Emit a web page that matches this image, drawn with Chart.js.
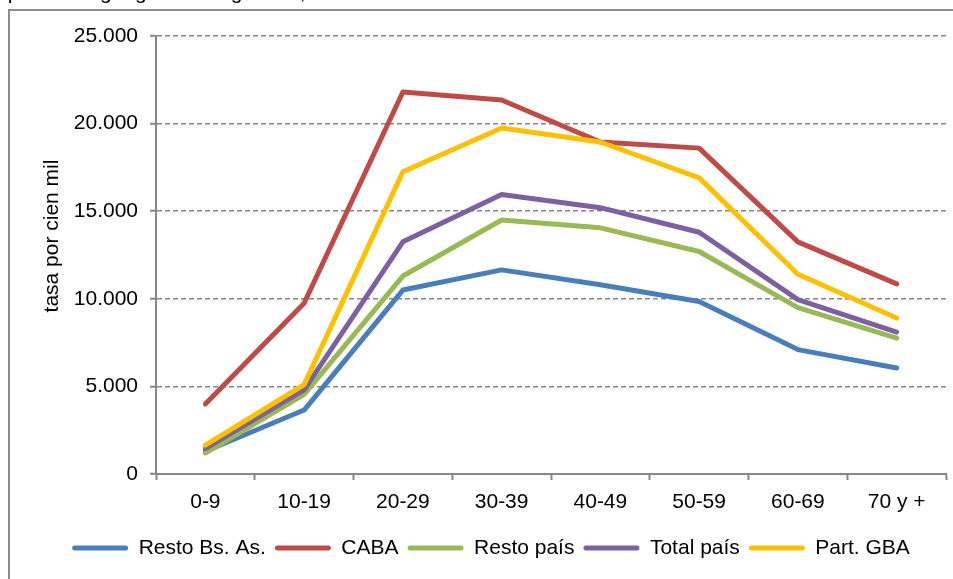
<!DOCTYPE html>
<html lang="es">
<head>
<meta charset="utf-8">
<title>Tasa por cien mil según grupo de edad</title>
<script src="https://cdn.jsdelivr.net/npm/chart.js@4/dist/chart.umd.min.js"></script>
<style>
  html, body { margin: 0; padding: 0; background: #fff; }
  #wrap { position: relative; width: 953px; height: 579px; }
  canvas { display: block; }
</style>
</head>
<body>
<div id="wrap"><canvas id="chart" width="953" height="579"></canvas></div>
<script>
// Age groups (x categories)
const ageGroups = ['0-9', '10-19', '20-29', '30-39', '40-49', '50-59', '60-69', '70 y +'];

// Rates per 100,000 inhabitants, one array per geographic group
const restoBsAs  = [1300, 3650, 10500, 11650, 10800, 9850, 7100, 6050];
const caba       = [4000, 9750, 21800, 21350, 18950, 18600, 13250, 10850];
const restoPais  = [1200, 4550, 11300, 14500, 14050, 12700, 9500, 7750];
const totalPais  = [1450, 4800, 13250, 15950, 15200, 13800, 9950, 8100];
const partGBA    = [1650, 5100, 17250, 19750, 18950, 16900, 11400, 8900];

// Y axis ticks
const yTickValues = [0, 5000, 10000, 15000, 20000, 25000];

const headerText = 'agrupamiento geográfico. Argentina, 2010';
const yTitle = 'tasa por cien mil';

const FONT = "'Liberation Sans', Arial, sans-serif";
const GRID = '#868686';

function thousands(v) {
  return String(v).replace(/\B(?=(\d{3})+(?!\d))/g, '.');
}

function series(label, data, color, order) {
  return {
    label, data, order,
    borderColor: color,
    backgroundColor: color,
    borderWidth: 5,
    borderCapStyle: 'round',
    borderJoinStyle: 'round',
    pointRadius: 0,
    pointHoverRadius: 0,
    tension: 0,
    fill: false
  };
}

// Outer frame, the header line running off the top edge and the y axis title
const framePlugin = {
  id: 'frame',
  beforeDraw(chart) {
    const ctx = chart.ctx;
    ctx.save();
    ctx.fillStyle = '#fff';
    ctx.fillRect(0, 0, chart.width, chart.height);
    ctx.strokeStyle = '#8c8c8c';
    ctx.lineWidth = 2;
    ctx.beginPath();
    ctx.moveTo(9, chart.height);
    ctx.lineTo(9, 10);
    ctx.lineTo(chart.width, 10);
    ctx.stroke();
    ctx.font = '21px ' + FONT;
    ctx.fillStyle = '#000';
    ctx.textBaseline = 'alphabetic';
    const lead = ctx.measureText('agrupamiento ').width;
    ctx.fillText(headerText, 100 - lead, -1);

    // y axis title, rotated
    const area = chart.chartArea;
    ctx.translate(52, area.top + 200);
    ctx.rotate(-Math.PI / 2);
    ctx.font = '21px ' + FONT;
    ctx.textAlign = 'center';
    ctx.textBaseline = 'middle';
    ctx.fillText(yTitle, 0, 0);
    ctx.restore();
  }
};

const ctx = document.getElementById('chart').getContext('2d');
new Chart(ctx, {
  type: 'line',
  data: {
    labels: ageGroups,
    datasets: [
      series('Resto Bs. As.', restoBsAs, '#4A7EBB', 4),
      series('CABA', caba, '#BE4B48', 3),
      series('Resto país', restoPais, '#98B954', 2),
      series('Total país', totalPais, '#7D60A0', 1),
      series('Part. GBA', partGBA, '#FFC000', 0)
    ]
  },
  options: {
    responsive: false,
    animation: false,
    events: [],
    layout: { padding: { left: 36, right: 7, top: 36, bottom: 10.5 } },
    plugins: {
      title: { display: false },
      tooltip: { enabled: false },
      legend: {
        position: 'bottom',
        labels: {
          font: { family: FONT, size: 21 },
          color: '#000',
          boxWidth: 56,
          boxHeight: 5,
          padding: 9,
          useBorderRadius: true,
          borderRadius: 2.5,
          sort: (a, b) => a.datasetIndex - b.datasetIndex,
          generateLabels(chart) {
            return Chart.defaults.plugins.legend.labels.generateLabels(chart)
              .map(item => Object.assign(item, { lineWidth: 0, fillStyle: item.strokeStyle }));
          }
        }
      }
    },
    scales: {
      x: {
        type: 'category',
        offset: true,
        afterFit(scale) { scale.height = 54.5; },
        grid: {
          offset: true,
          drawOnChartArea: false,
          drawTicks: true,
          tickLength: 6,
          tickColor: GRID,
          tickWidth: 2
        },
        border: { display: true, color: GRID, width: 2 },
        ticks: {
          font: { family: FONT, size: 21 },
          color: '#000',
          padding: 10,
          maxRotation: 0
        }
      },
      y: {
        min: 0,
        max: 25000,
        afterFit(scale) { scale.width = 120; },
        afterBuildTicks(scale) { scale.ticks = yTickValues.map(v => ({ value: v })); },
        grid: {
          color: GRID,
          lineWidth: 1.5,
          drawTicks: true,
          tickLength: 6,
          tickColor: GRID,
          tickWidth: 2
        },
        border: { display: true, color: GRID, width: 2, dash: [5, 3] },
        ticks: {
          font: { family: FONT, size: 21 },
          color: '#000',
          padding: 12,
          callback: v => thousands(v)
        },
        title: { display: false }
      }
    }
  },
  plugins: [framePlugin]
});
</script>
</body>
</html>
